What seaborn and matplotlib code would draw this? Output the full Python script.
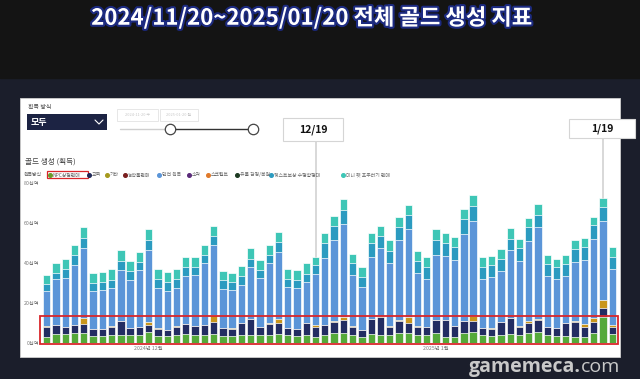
import numpy as np
import pandas as pd
import matplotlib.pyplot as plt
import matplotlib.patheffects as pe
import seaborn as sns
from matplotlib.patches import Rectangle
from matplotlib.lines import Line2D

sns.set_style('white')
plt.rcParams['font.family'] = ['Noto Sans CJK KR', 'DejaVu Sans']

# ─────────────────────────────────────────
# Podaci (십억 골드), 2024-11-20 ~ 2025-01-20
# ─────────────────────────────────────────
days = pd.date_range('2024-11-20', '2025-01-20').strftime('%m/%d').tolist()

npc = [3.2, 4.3, 4.5, 4.8, 5.2, 3.7, 3.5, 4.0, 4.0, 4.2,
       4.2, 5.3, 3.5, 3.5, 3.8, 4.5, 4.2, 4.2, 4.5, 3.7,
       3.5, 4.2, 4.2, 3.8, 3.8, 4.7, 3.8, 3.7, 4.0, 2.8,
       4.0, 4.8, 5.2, 4.0, 3.2, 4.5, 4.2, 4.0, 5.2, 5.2,
       3.8, 3.8, 5.2, 3.2, 3.2, 4.8, 5.5, 3.8, 3.5, 4.2,
       4.5, 3.8, 4.8, 5.5, 3.8, 3.5, 3.5, 3.2, 3.2, 5.2,
       13.2, 4.5]
trade = [5.0, 4.5, 3.3, 4.0, 4.3, 3.1, 3.3, 4.2, 6.8, 3.1,
         3.6, 3.7, 3.7, 3.0, 4.4, 5.0, 4.3, 4.8, 6.2, 3.8,
         3.7, 5.6, 7.6, 4.0, 5.7, 5.5, 3.5, 3.3, 5.8, 5.0,
         5.0, 5.9, 6.3, 4.2, 3.3, 7.3, 9.0, 4.2, 6.0, 5.0,
         4.4, 4.0, 6.3, 8.3, 5.3, 6.2, 5.7, 3.5, 3.7, 6.3,
         8.0, 4.4, 5.4, 6.0, 4.2, 3.8, 6.3, 7.3, 5.0, 5.3,
         4.3, 3.7]
etc = [0.2, 0.2, 0.2, 0.2, 3.2, 0.2, 0.2, 0.2, 0.2, 0.2,
       0.2, 1.7, 0.2, 0.2, 0.2, 0.2, 0.2, 0.2, 3.3, 0.2,
       0.2, 0.2, 0.2, 0.2, 0.5, 1.6, 0.2, 0.2, 0.2, 1.0,
       0.2, 0.2, 1.7, 0.2, 0.2, 0.2, 0.2, 0.2, 0.2, 2.6,
       0.2, 0.2, 0.2, 0.2, 0.2, 0.2, 2.3, 0.2, 0.2, 0.2,
       0.2, 0.2, 0.8, 0.7, 0.2, 0.2, 0.2, 0.5, 1.5, 2.0,
       4.0, 0.8]
dungeon = [17.6, 23.2, 24.3, 30.0, 34.6, 19.2, 19.5, 18.9, 25.5, 24.0,
           28.5, 35.8, 19.9, 19.5, 18.9, 23.8, 25.3, 30.6, 35.0, 19.5,
           19.1, 19.0, 26.2, 24.3, 30.2, 33.9, 20.7, 20.1, 20.3, 25.5,
           33.5, 40.6, 46.1, 25.6, 21.5, 31.2, 33.9, 31.4, 40.1, 44.0,
           26.4, 23.8, 32.3, 31.8, 32.8, 43.3, 47.7, 24.5, 25.4, 25.1,
           33.8, 32.8, 40.2, 45.6, 25.5, 24.3, 23.5, 29.7, 31.8, 39.7,
           39.7, 28.2]
quest = [3.5, 3.0, 4.5, 5.0, 5.4, 3.6, 4.2, 4.2, 4.5, 4.3,
         4.2, 5.0, 4.7, 4.1, 4.5, 4.3, 4.2, 4.0, 4.5, 4.3,
         4.2, 4.5, 3.8, 4.2, 3.8, 5.0, 4.0, 4.2, 4.2, 4.7,
         7.1, 7.0, 7.2, 5.8, 5.0, 6.6, 6.2, 6.2, 6.7, 7.2,
         6.2, 6.0, 7.5, 6.3, 6.7, 7.3, 7.3, 5.8, 6.0, 6.0,
         5.5, 6.3, 6.6, 6.4, 5.8, 6.0, 6.0, 6.1, 6.3, 6.8,
         6.6, 6.0]
pet = [4.5, 5.0, 5.2, 5.2, 5.1, 5.4, 5.0, 5.3, 5.5, 5.2,
       5.0, 5.5, 4.8, 5.2, 5.2, 5.0, 5.0, 5.0, 5.2, 4.7,
       4.5, 5.2, 5.3, 5.0, 5.0, 5.0, 5.0, 5.0, 5.3, 4.2,
       5.0, 5.0, 5.3, 4.7, 4.6, 5.4, 5.2, 5.5, 5.0, 5.0,
       5.2, 5.0, 5.7, 5.0, 4.6, 5.0, 5.3, 5.0, 4.7, 5.4,
       5.3, 4.7, 4.9, 5.1, 4.7, 4.4, 4.7, 4.7, 4.9, 4.2,
       4.5, 5.0]

seg_colors = ['#55a93a', '#232d62', '#c9961c', '#5b95d8', '#2b9bc0', '#3ec6b6']

legend_names = ['NPC상점판매', '교역', '기타', '농작물판매', '던전 획득', '소각',
                '스크립트', '유물 감정/복원', '퀘스트보상 수행함행대', '미니 펫 포추러기 판매']
legend_colors = ['#6a9a2a', '#1f2858', '#a69a1e', '#7a1f1f', '#5b95d8', '#5a2a7a',
                 '#e07a2a', '#1d3a22', '#2b9bc0', '#3ec6b6']
legend_x = [50, 89, 107, 125, 159, 189, 208, 237, 271, 343]

y_ticks = [0, 20, 40, 60, 80]
month_pos = [11, 42]
month_labels = ['2024년 12월', '2025년 1월']
marks = [29, 60]
mark_labels = ['12/19', '1/19']

W, H = 640, 379


def fx(x):
    return x / W


def fy(y):
    return 1 - y / H


fig = plt.figure(figsize=(6.4, 3.79), dpi=100, facecolor='#1b1e2b')
fig.add_artist(Rectangle((0, fy(78)), 1, 78 / H, transform=fig.transFigure,
                         color='#141414', zorder=0))
fig.add_artist(Rectangle((fx(20), fy(357)), 600 / W, 259 / H, transform=fig.transFigure,
                         facecolor='white', edgecolor='#cfcfcf', lw=0.6, zorder=0))

fig.text(fx(312), fy(18), '2024/11/20~2025/01/20 전체 골드 생성 지표',
         ha='center', va='center', fontsize=16, fontweight='bold', color='white',
         path_effects=[pe.withStroke(linewidth=3, foreground='#1c2a80')])

# ─────────────────────────────────────────
# Gornji filteri
# ─────────────────────────────────────────
fig.text(fx(28), fy(107), '획득 방식', fontsize=4.3, color='#444444', va='center')
fig.add_artist(Rectangle((fx(27), fy(130)), 80 / W, 16 / H, transform=fig.transFigure,
                         facecolor='#1c2343', edgecolor='none'))
fig.text(fx(31), fy(122), '모두', fontsize=6.5, fontweight='bold', color='white', va='center')
fig.add_artist(Line2D([fx(95), fx(99), fx(103)], [fy(120), fy(124), fy(120)],
                      transform=fig.transFigure, color='white', lw=0.8))
for x0, w, txt in [(117, 41, '2024-11-20 수'), (160, 38, '2025-01-20 월')]:
    fig.add_artist(Rectangle((fx(x0), fy(121)), w / W, 12 / H, transform=fig.transFigure,
                             facecolor='white', edgecolor='#e3e3e3', lw=0.6))
    fig.text(fx(x0 + w / 2), fy(115), txt, fontsize=2.8, color='#c8c8c8',
             ha='center', va='center')
fig.add_artist(Line2D([fx(120), fx(170)], [fy(129), fy(129)], transform=fig.transFigure,
                      color='#cfcfcf', lw=1))
fig.add_artist(Line2D([fx(170), fx(253)], [fy(129), fy(129)], transform=fig.transFigure,
                      color='#333333', lw=1))
fig.add_artist(Line2D([fx(170), fx(253)], [fy(129), fy(129)], transform=fig.transFigure,
                      lw=0, marker='o', markersize=7.5, markerfacecolor='white',
                      markeredgecolor='#444444', markeredgewidth=0.9))

fig.text(fx(25), fy(162), '골드 생성 (획득)', fontsize=5.5, color='#444444', va='center')
fig.text(fx(24), fy(175), '획득방식', fontsize=3.5, color='#555555', va='center')
for x0, name, c in zip(legend_x, legend_names, legend_colors):
    fig.add_artist(Line2D([fx(x0)], [fy(175)], transform=fig.transFigure, lw=0,
                          marker='o', markersize=2.6, color=c))
    fig.text(fx(x0 + 2.5), fy(175), name, fontsize=3.5, color='#666666', va='center')
fig.add_artist(Rectangle((fx(47), fy(178.5)), 41 / W, 7 / H, transform=fig.transFigure,
                         fill=False, edgecolor='#d9262b', lw=0.9))

# ─────────────────────────────────────────
# Naslagani stupci
# ─────────────────────────────────────────
ax = fig.add_axes([fx(42.1), fy(343), 574.7 / W, 160 / H])
ax.set_facecolor('none')

stack = np.vstack([npc, trade, etc, dungeon, quest, pet])
tops = stack.cumsum(axis=0)
for i in reversed(range(len(stack))):
    sns.barplot(x=days, y=tops[i], color=seg_colors[i], saturation=1, width=0.79,
                edgecolor='white', linewidth=0.5, errorbar=None, ax=ax)

ax.set_ylim(0, 80)
ax.set_xlim(-0.5, len(days) - 0.5)
sns.despine(ax=ax, left=True, bottom=True)
ax.set_xticks(month_pos)
ax.set_xticklabels(month_labels)
ax.set_yticks(y_ticks)
ax.set_yticklabels([f'{v}십억' for v in y_ticks])
ax.tick_params(length=0, labelsize=3.8, colors='#7a7a7a', pad=2)
ax.set_xlabel('')
ax.set_ylabel('')

ax.add_patch(Rectangle((-0.72, -0.5), 62.4, 14.0, fill=False, edgecolor='#d9262b',
                       lw=1.3, clip_on=False, zorder=5))

# Oznake 12/19 i 1/19
box_px = [(283, 118, 60, 23), (569, 119, 66, 19)]
for idx, lab, (bx, by, bw, bh) in zip(marks, mark_labels, box_px):
    y_box = (343 - (by + bh)) / 2
    ax.plot([idx, idx], [tops[-1][idx], y_box], color='#d2d2d2', lw=1.2,
            clip_on=False, zorder=4)
    fig.add_artist(Rectangle((fx(bx), fy(by + bh)), bw / W, bh / H,
                             transform=fig.transFigure, facecolor='white',
                             edgecolor='#d5d5d5', lw=0.8, zorder=6))
    fig.text(fx(bx + bw / 2), fy(by + bh / 2), lab, ha='center', va='center',
             fontsize=7.5, fontweight='bold', color='#111111', zorder=7)

fig.text(fx(581), fy(367), 'gamemeca.', ha='right', va='center', fontsize=14,
         fontweight='bold', color='#c9c9c9', family=['Open Sans', 'DejaVu Sans'])
fig.text(fx(581), fy(367), 'com', ha='left', va='center', fontsize=14,
         color='#c9c9c9', family=['Open Sans', 'DejaVu Sans'])

plt.savefig('out.png', dpi=100)
plt.close()
